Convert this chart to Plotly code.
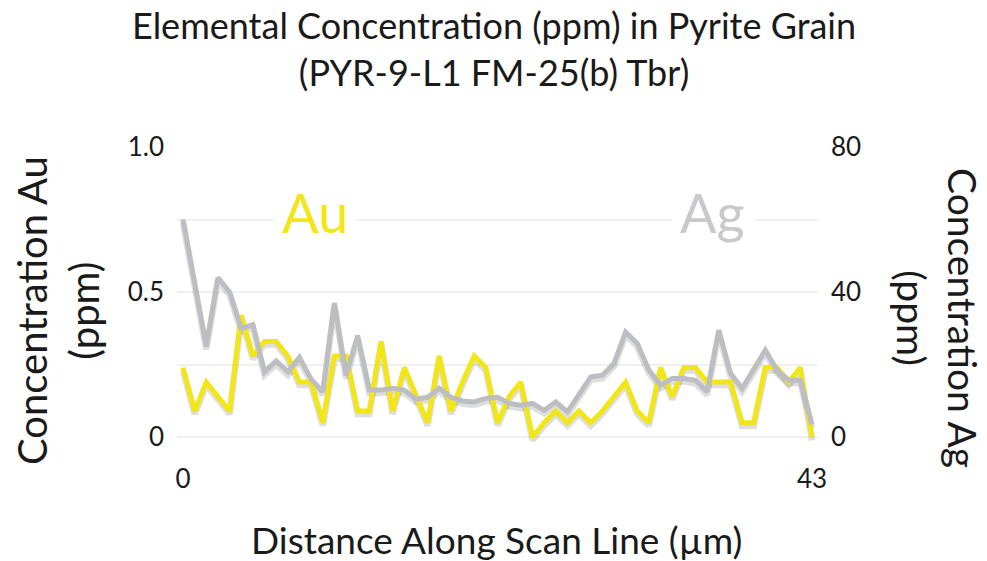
import plotly.graph_objects as go

# ---- data ----
distance_um = [0, 0.8, 1.59, 2.39, 3.19, 3.98, 4.78, 5.57, 6.37, 7.17, 7.96, 8.76, 9.56, 10.35,
               11.15, 11.94, 12.74, 13.54, 14.33, 15.13, 15.93, 16.72, 17.52, 18.31, 19.11, 19.91,
               20.7, 21.5, 22.3, 23.09, 23.89, 24.69, 25.48, 26.28, 27.07, 27.87, 28.67, 29.46,
               30.26, 31.06, 31.85, 32.65, 33.44, 34.24, 35.04, 35.83, 36.63, 37.43, 38.22, 39.02,
               39.81, 40.61, 41.41, 42.2, 43.0]
au_ppm = [0.24, 0.09, 0.19, 0.14, 0.09, 0.42, 0.28, 0.33, 0.33, 0.28, 0.19, 0.19, 0.05, 0.28,
          0.28, 0.09, 0.09, 0.33, 0.09, 0.24, 0.14, 0.05, 0.28, 0.09, 0.19, 0.28, 0.24, 0.05,
          0.14, 0.19, 0.0, 0.05, 0.09, 0.05, 0.09, 0.05, 0.09, 0.14, 0.19, 0.09, 0.05, 0.24,
          0.14, 0.24, 0.24, 0.19, 0.19, 0.19, 0.05, 0.05, 0.24, 0.24, 0.19, 0.24, 0.0]
ag_ppm = [60, 42, 25, 44, 40, 30, 31, 18, 21, 18, 22, 16, 12.5, 37, 17, 28, 13, 13, 13.5, 13,
          10.5, 11, 13.5, 11, 10, 9.7, 10.7, 11, 9.3, 8.8, 9.3, 7.4, 9.7, 7, 12, 16.6, 17.1,
          20.3, 29, 25.8, 18.5, 14.3, 16.2, 16.2, 15.7, 12.5, 29.5, 17.6, 13.4, 19, 24, 18.5,
          15.7, 15.7, 3.5]

x_ticks = [0, 43]
au_ticks = [0, 0.25, 0.5, 0.75, 1.0]
au_tick_text = ["0", "", "0.5", "", "1.0"]
ag_ticks = [0, 40, 80]
ag_tick_text = ["0", "40", "80"]

title_text = "Elemental Concentration (ppm) in Pyrite Grain<br>(PYR-9-L1 FM-25(b) Tbr)"

# ---- style ----
FONT = "Lato"
YELLOW = "#F2E617"
GREY = "#BDBEC2"
TEXT = "#1a1a1a"
W, H = 987, 561
ML, MR, MT, MB = 177, 169, 147, 118
plot_h = H - MT - MB
plot_w = W - ML - MR

au_range = [-0.02, 1.0]
ag_range = [-1.6, 80.0]
shadow_px = 3.0
au_shift = shadow_px * (au_range[1] - au_range[0]) / plot_h
ag_shift = shadow_px * (ag_range[1] - ag_range[0]) / plot_h

fig = go.Figure()
# soft drop shadows (same data drawn through slightly shifted scales)
fig.add_trace(go.Scatter(x=distance_um, y=au_ppm, mode="lines", yaxis="y",
                         line=dict(color="rgba(0,0,0,0.13)", width=6.5),
                         hoverinfo="skip", showlegend=False))
fig.add_trace(go.Scatter(x=distance_um, y=ag_ppm, mode="lines", yaxis="y2",
                         line=dict(color="rgba(0,0,0,0.13)", width=6.5),
                         hoverinfo="skip", showlegend=False))
# main series
fig.add_trace(go.Scatter(x=distance_um, y=au_ppm, mode="lines", yaxis="y3", name="Au",
                         line=dict(color=YELLOW, width=5), showlegend=False))
fig.add_trace(go.Scatter(x=distance_um, y=ag_ppm, mode="lines", yaxis="y4", name="Ag",
                         line=dict(color=GREY, width=5), showlegend=False))

fig.update_layout(
    width=W, height=H,
    margin=dict(l=ML, r=MR, t=MT, b=MB),
    paper_bgcolor="white", plot_bgcolor="white",
    font=dict(family=FONT, color=TEXT),
    xaxis=dict(range=[-0.41, 43.41], tickvals=x_ticks, ticktext=[str(v) for v in x_ticks],
               showgrid=False, zeroline=False, showline=False, ticks="",
               ticklabelstandoff=18, tickfont=dict(size=26, color=TEXT)),
    yaxis=dict(range=[au_range[0] + au_shift, au_range[1] + au_shift], visible=False,
               fixedrange=True),
    yaxis2=dict(range=[ag_range[0] + ag_shift, ag_range[1] + ag_shift], visible=False,
                overlaying="y"),
    yaxis3=dict(range=au_range, overlaying="y", side="left", tickvals=au_ticks,
                ticktext=au_tick_text, showgrid=True, gridcolor="#EFF1EF", gridwidth=1.5,
                zeroline=False, showline=False, ticks="", ticklabelstandoff=12,
                tickfont=dict(size=26, color=TEXT)),
    yaxis4=dict(range=ag_range, overlaying="y", side="right", tickvals=ag_ticks,
                ticktext=ag_tick_text, showgrid=False, zeroline=False, showline=False,
                ticks="", ticklabelstandoff=12, tickfont=dict(size=26, color=TEXT)),
)


def px_to_paper_x(px):
    return (px - ML) / plot_w


def px_to_paper_y(py):
    return (H - MB - py) / plot_h


annotations = [
    dict(text=title_text, x=px_to_paper_x(494), y=px_to_paper_y(49),
         xref="paper", yref="paper", showarrow=False, font=dict(size=36, color=TEXT),
         xanchor="center", yanchor="middle"),
    dict(text="Distance Along Scan Line (µm)", x=px_to_paper_x(496), y=px_to_paper_y(539),
         xref="paper", yref="paper", showarrow=False, font=dict(size=37, color=TEXT),
         xanchor="center", yanchor="middle"),
    dict(text="Concentration Au<br>(ppm)", x=px_to_paper_x(58), y=px_to_paper_y(310),
         xref="paper", yref="paper", showarrow=False, textangle=-90,
         font=dict(size=40, color=TEXT), xanchor="center", yanchor="middle"),
    dict(text="Concentration Ag<br>(ppm)", x=px_to_paper_x(938), y=px_to_paper_y(318),
         xref="paper", yref="paper", showarrow=False, textangle=90,
         font=dict(size=39, color=TEXT), xanchor="center", yanchor="middle"),
    dict(text="Au", x=px_to_paper_x(315), y=px_to_paper_y(212), xref="paper", yref="paper",
         showarrow=False, font=dict(size=54, color=YELLOW), bgcolor="white",
         borderpad=8, xanchor="center", yanchor="middle"),
    dict(text="Ag", x=px_to_paper_x(712), y=px_to_paper_y(212), xref="paper", yref="paper",
         showarrow=False, font=dict(size=54, color="#C9C9CB"), bgcolor="white",
         borderpad=8, xanchor="center", yanchor="middle"),
]
fig.update_layout(annotations=annotations)

fig.write_html("out.html")
